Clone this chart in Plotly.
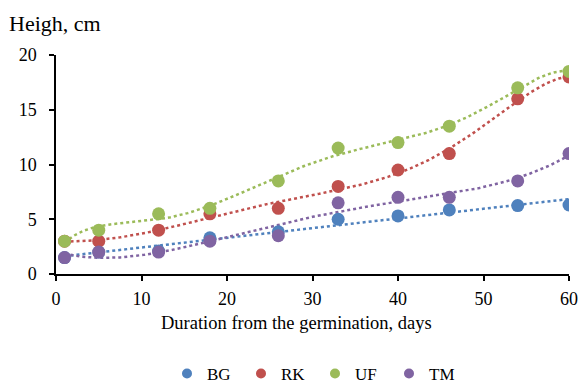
import numpy as np
import plotly.graph_objects as go

days = [1, 5, 12, 18, 26, 33, 40, 46, 54, 60]
bg = [1.5, 2.0, 2.1, 3.3, 3.85, 5.0, 5.3, 5.85, 6.25, 6.3]
rk = [3.0, 3.0, 4.0, 5.5, 6.0, 8.0, 9.5, 11.0, 16.0, 18.0]
uf = [3.0, 4.0, 5.5, 6.0, 8.5, 11.5, 12.0, 13.5, 17.0, 18.5]
tm = [1.5, 2.0, 2.0, 3.0, 3.5, 6.5, 7.0, 7.0, 8.5, 11.0]
names = ["BG", "RK", "UF", "TM"]
colors = ["#4F81BD", "#C0504D", "#9BBB59", "#8064A2"]
trend_degree = [1, 6, 6, 4]

font = "Liberation Serif, Times New Roman, serif"
fig = go.Figure()
xs = np.linspace(1, 60, 300)
for name, vals, col, deg in zip(names, [bg, rk, uf, tm], colors, trend_degree):
    coef = np.polyfit(days, vals, deg)
    fig.add_trace(go.Scatter(x=xs, y=np.polyval(coef, xs), mode="lines",
                             line=dict(color=col, width=2.5, dash="dot"),
                             showlegend=False, hoverinfo="skip"))
for name, vals, col in zip(names, [bg, rk, uf, tm], colors):
    fig.add_trace(go.Scatter(x=days, y=vals, mode="markers", name=name,
                             legendgroup=name, showlegend=False,
                             marker=dict(color=col, size=13)))
for name, col in zip(names, colors):
    fig.add_trace(go.Scatter(x=[None], y=[None], mode="markers", name=name,
                             legendgroup=name, marker=dict(color=col, size=10)))

W, H = 580, 385
L, T, R, B = 56, 55, 11, 111
PW, PH = W - L - R, H - T - B

fig.update_layout(
    width=W, height=H,
    margin=dict(l=L, r=R, t=T, b=B, autoexpand=False),
    plot_bgcolor="white", paper_bgcolor="white",
    font=dict(family=font, size=18, color="black"),
    xaxis=dict(range=[0, 60], dtick=10, showgrid=False, zeroline=False,
               showline=True, linecolor="black", linewidth=1.5,
               ticks="outside", ticklen=5, tickcolor="black", tickwidth=1.5,
               ticklabelstandoff=3, tickfont=dict(size=18)),
    yaxis=dict(range=[0, 20], dtick=5, showgrid=False, zeroline=False,
               showline=True, linecolor="black", linewidth=1.5,
               ticks="outside", ticklen=5, tickcolor="black", tickwidth=1.5,
               ticklabelstandoff=9, tickfont=dict(size=18)),
    legend=dict(orientation="h", xref="container", yref="container",
                x=(187 - 20) / W, xanchor="left",
                y=1 - 374 / H, yanchor="middle",
                entrywidth=29, itemwidth=30, font=dict(size=17),
                bgcolor="rgba(0,0,0,0)"),
    annotations=[
        dict(text="Heigh, cm", xref="paper", yref="paper",
             x=(7 - L) / PW, y=1 + (T - 23) / PH, xanchor="left",
             yanchor="middle", showarrow=False, font=dict(size=22)),
        dict(text="Duration from the germination, days", xref="paper",
             yref="paper", x=(296 - L) / PW, y=-(323 - (H - B)) / PH,
             xanchor="center", yanchor="middle", showarrow=False,
             font=dict(size=18.5)),
    ],
)
fig.write_html("out.html", config={"displayModeBar": False},
               post_script="document.body.style.margin='0';"
                           "document.body.style.overflow='hidden';")
